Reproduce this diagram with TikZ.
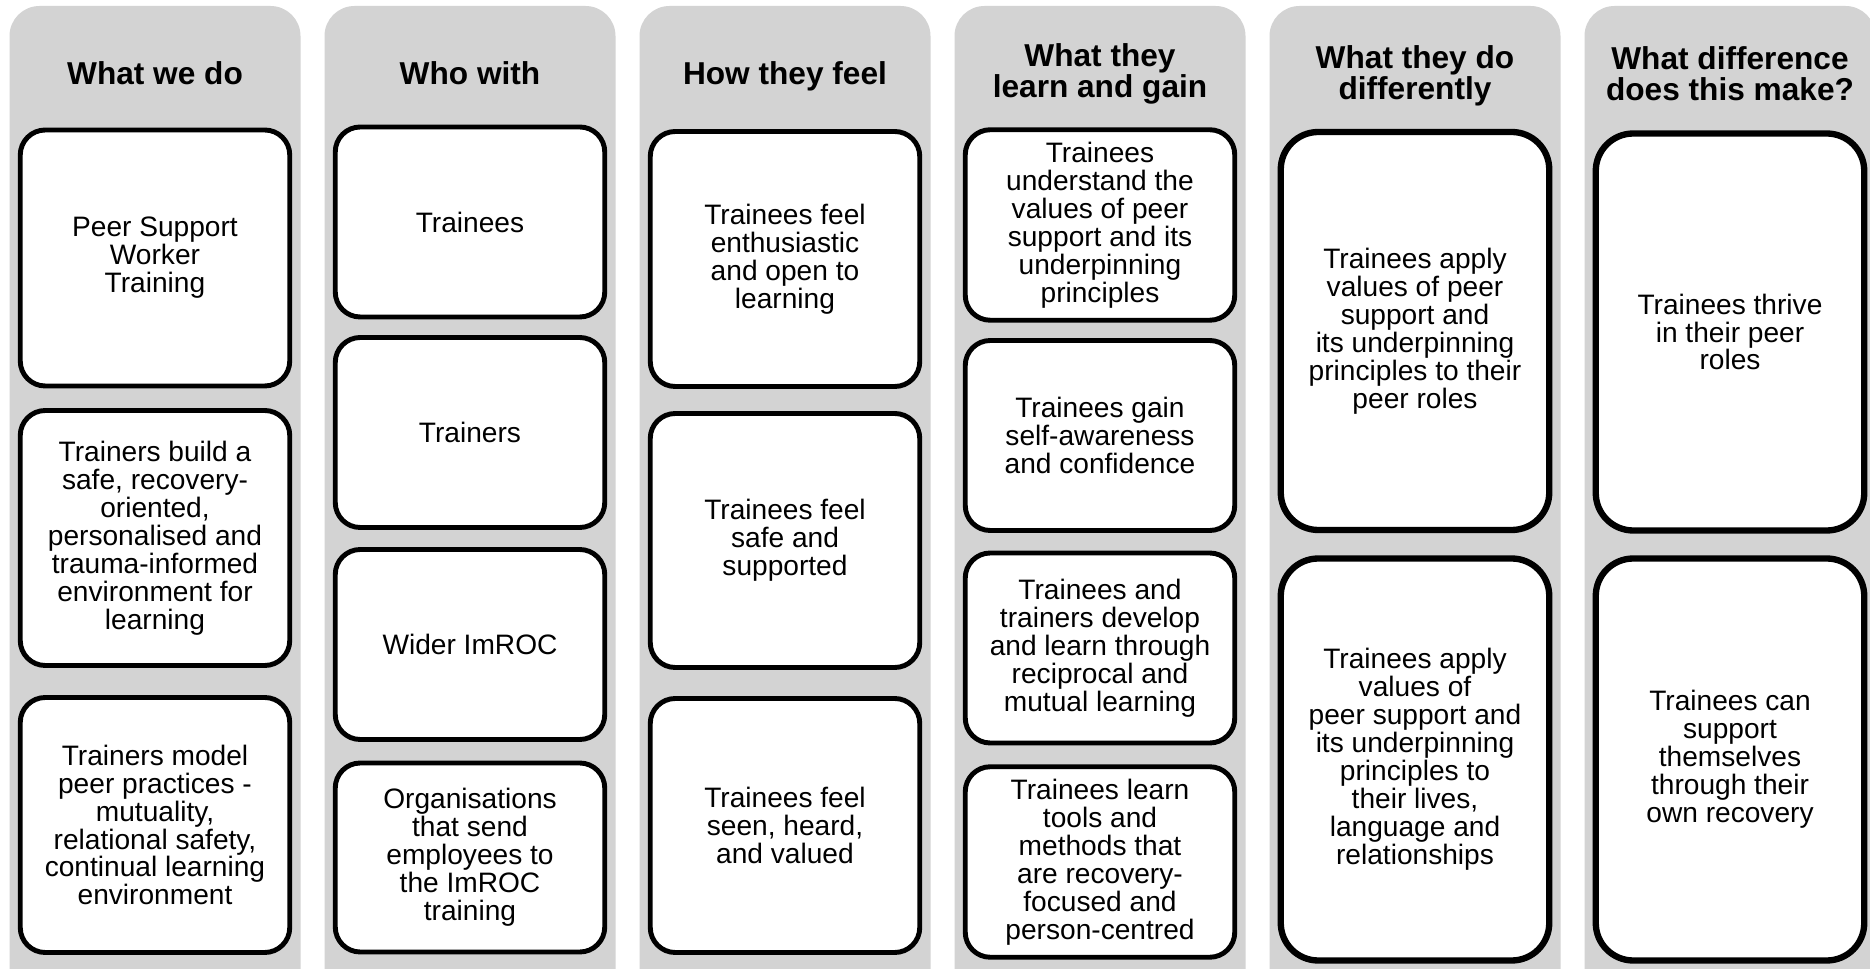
\documentclass[tikz,border=0pt]{standalone}
\usepackage{fontspec}
\setmainfont{Liberation Sans}
\definecolor{lanegrey}{RGB}{211,211,211}

\tikzset{
  lane/.style={fill=lanegrey,rounded corners=0.6cm},
  head/.style={align=center,font=\bfseries\fontsize{18}{17.6}\selectfont},
  card/.style={draw=black,fill=white,line width=2.8pt,rounded corners=0.5cm,
    minimum width=5.39cm,align=center,inner sep=2pt,
    font=\fontsize{16}{15.9}\selectfont},
  bigcard/.style={card,line width=3.6pt,rounded corners=0.75cm,minimum width=5.37cm}
}

\begin{document}
\begin{tikzpicture}
\useasboundingbox (0,0) rectangle (37.4,19.36);
\fill[lane] (0.19,-1) rectangle (6.01,19.24);
\fill[lane] (6.49,-1) rectangle (12.31,19.24);
\fill[lane] (12.79,-1) rectangle (18.61,19.24);
\fill[lane] (19.09,-1) rectangle (24.91,19.24);
\fill[lane] (25.39,-1) rectangle (31.21,19.24);
\fill[lane] (31.69,-1) rectangle (37.51,19.24);
\node[head] (h1) at (3.10,17.90) {What we do};
\node[head] (h2) at (9.40,17.90) {Who with};
\node[head] (h3) at (15.70,17.84) {How they feel};
\node[head] (h4) at (22.00,17.88) {What they\\learn and gain};
\node[head] (h5) at (28.30,17.84) {What they do\\differently};
\node[head] (h6) at (34.60,17.88) {What difference\\does this make?};
\node[card,minimum height=5.12cm] (d1) at (3.10,14.20) {Peer Support\\Worker\\Training};
\node[card,minimum height=5.10cm] (d2) at (3.10,8.60) {Trainers build a\\safe, recovery-\\oriented,\\personalised and\\trauma-informed\\environment for\\learning};
\node[card,minimum height=5.10cm] (d3) at (3.10,2.86) {Trainers model\\peer practices -\\mutuality,\\relational safety,\\continual learning\\environment};
\node[card,minimum height=3.80cm] (w1) at (9.40,14.92) {Trainees};
\node[card,minimum height=3.80cm] (w2) at (9.40,10.71) {Trainers};
\node[card,minimum height=3.80cm] (w3) at (9.40,6.47) {Wider ImROC};
\node[card,minimum height=3.78cm] (w4) at (9.40,2.21) {Organisations\\that send\\employees to\\the ImROC\\training};
\node[card,minimum height=5.10cm] (f1) at (15.70,14.18) {Trainees feel\\enthusiastic\\and open to\\learning};
\node[card,minimum height=5.08cm] (f2) at (15.70,8.55) {Trainees feel\\safe and\\supported};
\node[card,minimum height=5.08cm] (f3) at (15.70,2.85) {Trainees feel\\seen, heard,\\and valued};
\node[card,minimum height=3.81cm] (l1) at (22.00,14.86) {Trainees\\understand the\\values of peer\\support and its\\underpinning\\principles};
\node[card,minimum height=3.80cm] (l2) at (22.00,10.65) {Trainees gain\\self-awareness\\and confidence};
\node[card,minimum height=3.80cm] (l3) at (22.00,6.40) {Trainees and\\trainers develop\\and learn through\\reciprocal and\\mutual learning};
\node[card,minimum height=3.81cm] (l4) at (22.00,2.12) {Trainees learn\\tools and\\methods that\\are recovery-\\focused and\\person-centred};
\node[bigcard,minimum height=7.96cm] (a1) at (28.30,12.74) {Trainees apply\\values of peer\\support and\\its underpinning\\principles to their\\peer roles};
\node[bigcard,minimum height=8.04cm] (a2) at (28.30,4.17) {Trainees apply\\values of\\peer support and\\its underpinning\\principles to\\their lives,\\language and\\relationships};
\node[bigcard,minimum height=7.94cm] (m1) at (34.60,12.72) {Trainees thrive\\in their peer\\roles};
\node[bigcard,minimum height=8.04cm] (m2) at (34.60,4.17) {Trainees can\\support\\themselves\\through their\\own recovery};
\end{tikzpicture}
\end{document}
